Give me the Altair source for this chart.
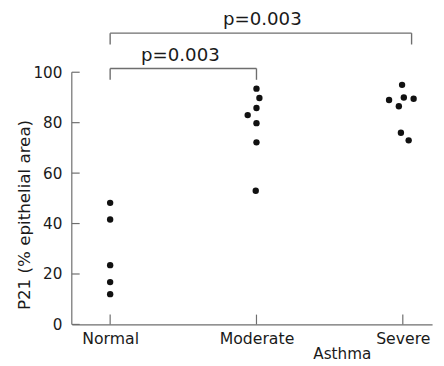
import altair as alt
import pandas as pd

categories = ["Normal", "Moderate", "Severe"]

normal_vals = [48.2, 41.6, 23.5, 16.8, 12.0]
normal_jit = [0.0, 0.0, 0.0, 0.0, 0.0]
moderate_vals = [93.5, 89.8, 85.8, 83.0, 79.8, 72.2, 53.0]
moderate_jit = [0.0, 0.02, 0.0, -0.06, 0.0, 0.0, -0.005]
severe_vals = [95.0, 89.0, 90.0, 89.5, 86.5, 76.0, 73.0]
severe_jit = [-0.005, -0.094, 0.007, 0.074, -0.027, -0.013, 0.04]

y_ticks = [0, 20, 40, 60, 80, 100]

# significance brackets (data units)
br_x1 = [0, 0]
br_x2 = [1, 2.06]
br_y = [101.5, 115.5]
br_drop = [4.5, 4.5]
p_text = ["p=0.003", "p=0.003"]
p_x = [0.48, 1.04]
p_y = [106.7, 121.0]

rows = []
for i, (vals, jit) in enumerate([(normal_vals, normal_jit), (moderate_vals, moderate_jit), (severe_vals, severe_jit)]):
    for v, j in zip(vals, jit):
        rows.append({"pos": i + j, "val": v, "group": categories[i]})
pts = pd.DataFrame(rows)

W, H = 367, 316
GREY = "#6e6e6e"
FONT = "DejaVu Sans"
TXT = "#1a1a1a"

xscale = alt.Scale(domain=[-0.262, 2.2], nice=False, zero=False)
yscale = alt.Scale(domain=[0, 123], nice=False, zero=False)

label_expr = "[" + ",".join("'%s'" % c for c in categories) + "][datum.value]"

points = alt.Chart(pts).mark_circle(size=42, color="#111111", opacity=1).encode(
    x=alt.X("pos:Q", scale=xscale, axis=alt.Axis(
        values=[0, 1, 2], labelExpr=label_expr, ticks=False, grid=False,
        domainColor=GREY, domainWidth=1.2, labelPadding=6, labelFontSize=16, labelFont=FONT,
        labelColor=TXT, title="Asthma", titleFont=FONT, titleFontSize=15.5,
        titleFontWeight="normal", titleColor=TXT, titleX=275, titleY=30,
        titleAlign="center", titleBaseline="middle")),
    y=alt.Y("val:Q", scale=yscale, axis=alt.Axis(
        values=y_ticks, ticks=False, grid=False, domain=False, labelPadding=10,
        labelFontSize=15.5, labelFont=FONT, labelColor=TXT,
        title="P21 (% epithelial area)", titleFont=FONT, titleFontSize=17,
        titleFontWeight="normal", titleColor=TXT, titleX=-48, titleY=204,
        titleAlign="center", titleBaseline="middle")),
)

ytick_df = pd.DataFrame({"v": y_ticks})
yticks = alt.Chart(ytick_df).mark_rule(color=GREY, strokeWidth=1.2).encode(
    y=alt.Y("v:Q", scale=yscale), x=alt.value(0), x2=alt.value(8))

xtick_df = pd.DataFrame({"v": [0, 1, 2]})
xticks = alt.Chart(xtick_df).mark_rule(color=GREY, strokeWidth=1.2).encode(
    x=alt.X("v:Q", scale=xscale), y=alt.value(H), y2=alt.value(H - 10))

yline = alt.Chart(pd.DataFrame({"a": [0], "b": [100]})).mark_rule(color=GREY, strokeWidth=1.2).encode(
    y=alt.Y("a:Q", scale=yscale), y2="b:Q", x=alt.value(0))

hrow = []
vrow = []
for x1, x2, y, d in zip(br_x1, br_x2, br_y, br_drop):
    hrow.append({"x1": x1, "x2": x2, "y": y})
    vrow.append({"x": x1, "y1": y - d, "y2": y})
    vrow.append({"x": x2, "y1": y - d, "y2": y})

hbr = alt.Chart(pd.DataFrame(hrow)).mark_rule(color=GREY, strokeWidth=1.4).encode(
    x=alt.X("x1:Q", scale=xscale), x2="x2:Q",
    y=alt.Y("y:Q", scale=yscale))
vbr = alt.Chart(pd.DataFrame(vrow)).mark_rule(color=GREY, strokeWidth=1.4).encode(
    x=alt.X("x:Q", scale=xscale),
    y=alt.Y("y1:Q", scale=yscale), y2="y2:Q")

ptxt = alt.Chart(pd.DataFrame({"t": p_text, "x": p_x, "y": p_y})).mark_text(
    fontSize=18.5, font=FONT, color=TXT, align="center", baseline="middle").encode(
    x=alt.X("x:Q", scale=xscale), y=alt.Y("y:Q", scale=yscale), text="t:N")

chart = alt.layer(points, yticks, xticks, yline, hbr, vbr, ptxt).properties(
    width=W, height=H,
    autosize=alt.AutoSizeParams(type="none"),
    padding={"left": 65, "top": 3, "right": 4, "bottom": 39},
).configure_view(stroke=None)

chart.save("out.html", embed_options={"renderer": "svg", "actions": False})
